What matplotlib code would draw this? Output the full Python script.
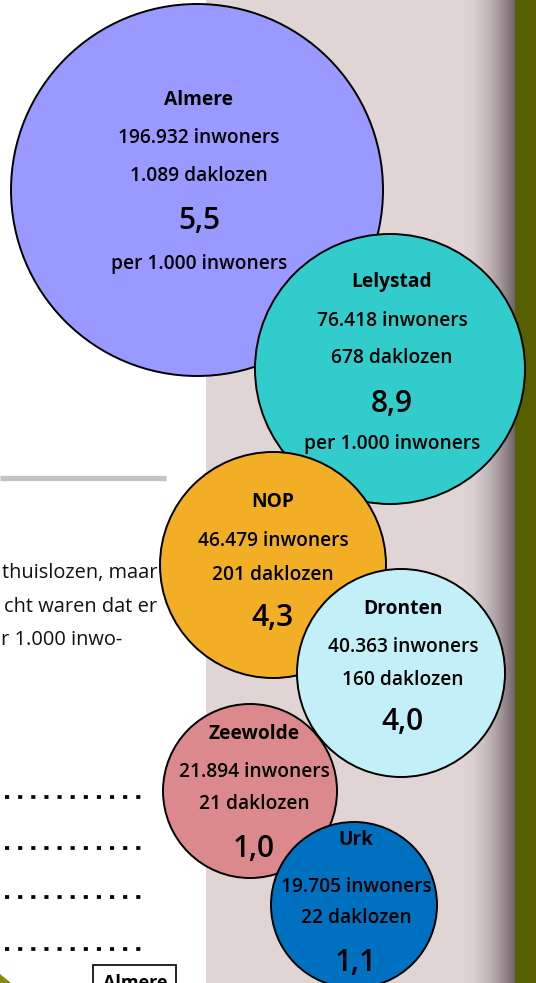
import numpy as np
import matplotlib
matplotlib.use("Agg")
import matplotlib.pyplot as plt
from matplotlib.patches import Circle, Rectangle, Polygon

plt.rcParams['font.family'] = ['Open Sans', 'DejaVu Sans']

# ---- data ----
cities = ["Almere", "Lelystad", "NOP", "Dronten", "Zeewolde", "Urk"]
inwoners = [196932, 76418, 46479, 40363, 21894, 19705]
daklozen = [1089, 678, 201, 160, 21, 22]
per1000 = [5.5, 8.9, 4.3, 4.0, 1.0, 1.1]
colors = ["#9999FF", "#33CCCC", "#F2AE24", "#C3F0F8", "#DC898D", "#0070C0"]

# ---- layout (pixels, y downward) ----
centers = [(197, 190), (390, 369), (273, 565), (401, 673), (250, 791), (354, 905)]
radii = [186, 135, 113, 104, 87, 83]
text_x = [199, 392, 273, 403, 254, 356]
# y of: title, inwoners, daklozen, rate, "per 1.000 inwoners"
text_y = [
    [100, 138, 176, 221, 264],
    [282, 321, 358, 404, 444],
    [502, 541, 575, 618, None],
    [609, 647, 680, 722, None],
    [734, 772, 804, 849, None],
    [840, 887, 918, 963, None],
]

W, H = 536, 983
fig = plt.figure(figsize=(W / 100, H / 100), dpi=100)
ax = fig.add_axes([0, 0, 1, 1])
ax.set_xlim(0, W)
ax.set_ylim(H, 0)
ax.set_aspect('auto')
ax.axis('off')

# background panels
ax.add_patch(Rectangle((0, 0), 206, H, facecolor='white', edgecolor='none', zorder=0))
ax.add_patch(Rectangle((206, 0), 309, H, facecolor='#E0D4D4', edgecolor='none', zorder=0))
# shadow gradient
xs = np.linspace(0, 1, 200)
base = np.array([224, 212, 212]) / 255
dark = np.array([112, 98, 104]) / 255
t = xs ** 2.0
grad = base[None, :] * (1 - t[:, None]) + dark[None, :] * t[:, None]
ax.imshow(grad[None, :, :], extent=(460, 515, H, 0), aspect='auto', zorder=0.5,
          interpolation='bilinear')
ax.add_patch(Rectangle((515, 0), 21, H, facecolor='#566000', edgecolor='none', zorder=0.6))

# gray rule
ax.plot([0, 166], [478, 478], color='#C3C3C3', lw=3.8, solid_capstyle='butt', zorder=1)

# partial body text (visible fragments of a text column)
body = [("thuislozen, maar", 2, 573),
        ("cht waren dat er", 4, 607),
        ("r 1.000 inwo-", 1, 640)]
for s, x, y in body:
    ax.text(x, y, s, ha='left', va='center', fontsize=14.4, color='#111111',
            zorder=1)

# dotted lines
for y in [797, 848, 897, 949]:
    ax.plot([5, 141], [y, y], color='black', lw=2.7,
            linestyle=(0, (1.1, 2.4)), dash_capstyle='butt', zorder=1)

# boxed label at bottom
ax.add_patch(Rectangle((93, 965), 83, 40, facecolor='white', edgecolor='black',
                       lw=1.2, zorder=1))
ax.text(103, 974, "Almere", ha='left', va='top', fontsize=13, fontweight='bold',
        color='black', zorder=1.1, clip_on=True)

# olive corner shape
ax.add_patch(Polygon([(0, 974), (11, 983), (0, 983)], closed=True,
                     facecolor='#8A8A10', edgecolor='none', zorder=1))

# circles
fs = 13.8
for i, name in enumerate(cities):
    z = 2 + i
    cx, cy = centers[i]
    ax.add_patch(Circle((cx, cy), radii[i], facecolor=colors[i], edgecolor='black',
                        lw=1.4, zorder=z))
    ys = text_y[i]
    tx = text_x[i]
    inw = format(inwoners[i], ',').replace(',', '.') + " inwoners"
    dak = format(daklozen[i], ',').replace(',', '.') + " daklozen"
    rate = f"{per1000[i]:.1f}".replace('.', ',')
    ax.text(tx, ys[0], name, ha='center', va='center', fontsize=fs,
            fontweight='bold', color='black', zorder=z + 0.5)
    ax.text(tx, ys[1], inw, ha='center', va='center', fontsize=fs,
            fontweight='semibold', color='black', zorder=z + 0.5)
    ax.text(tx, ys[2], dak, ha='center', va='center', fontsize=fs,
            fontweight='semibold', color='black', zorder=z + 0.5)
    ax.text(tx, ys[3], rate, ha='center', va='center', fontsize=21.5,
            fontweight='semibold', color='black', zorder=z + 0.5)
    if ys[4] is not None:
        ax.text(tx, ys[4], "per 1.000 inwoners", ha='center', va='center',
                fontsize=fs, fontweight='semibold', color='black', zorder=z + 0.5)

fig.savefig("out.png", dpi=100)
